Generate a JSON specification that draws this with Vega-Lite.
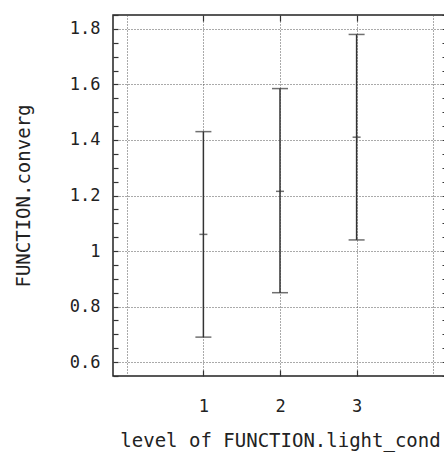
{
  "$schema": "https://vega.github.io/schema/vega-lite/v6.json",
  "width": 334,
  "height": 361,
  "autosize": {"type": "none"},
  "padding": {"left": 113, "top": 15, "right": 0, "bottom": 76},
  "background": "white",
  "config": {
    "view": {"stroke": "#222", "strokeWidth": 1.5},
    "font": "DejaVu Sans Mono",
    "axis": {
      "labelFont": "DejaVu Sans Mono",
      "titleFont": "DejaVu Sans Mono",
      "labelFontSize": 17,
      "titleFontSize": 19,
      "labelColor": "#222",
      "titleColor": "#222",
      "titleFontWeight": "normal",
      "domain": false,
      "tickColor": "#333",
      "tickWidth": 1.2,
      "gridColor": "#555",
      "gridDash": [1, 2],
      "gridWidth": 1,
      "labelOverlap": false,
      "labelFlush": false,
      "labelBound": false
    }
  },
  "data": {
    "values": [
      {"level": 1, "low": 0.69, "mid": 1.06, "high": 1.43},
      {"level": 2, "low": 0.85, "mid": 1.215, "high": 1.585},
      {"level": 3, "low": 1.04, "mid": 1.41, "high": 1.78}
    ]
  },
  "layer": [
    {
      "mark": {"type": "rule", "color": "#333", "strokeWidth": 1.5},
      "encoding": {
        "x": {
          "field": "level", "type": "quantitative",
          "scale": {"domain": [-0.18, 4.18], "nice": false, "zero": false},
          "axis": {
            "orient": "bottom",
            "title": "level of FUNCTION.light_cond",
            "values": [0, 1, 2, 3, 4],
            "labelExpr": "datum.value >= 1 && datum.value <= 3 ? datum.label : ''",
            "grid": true,
            "tickSize": -6,
            "tickOpacity": {"condition": {"test": "datum.value >= 1 && datum.value <= 3", "value": 1}, "value": 0},
            "labelPadding": 28,
            "titlePadding": 17
          }
        },
        "y": {
          "field": "low", "type": "quantitative",
          "scale": {"domain": [0.55, 1.85], "nice": false, "zero": false},
          "axis": {
            "orient": "left",
            "title": "FUNCTION.converg",
            "values": [0.55, 0.6, 0.65, 0.7, 0.75, 0.8, 0.85, 0.9, 0.95, 1, 1.05, 1.1, 1.15, 1.2, 1.25, 1.3, 1.35, 1.4, 1.45, 1.5, 1.55, 1.6, 1.65, 1.7, 1.75, 1.8, 1.85],
            "labelExpr": "round(datum.value * 20) % 4 == 0 ? toString(round(datum.value * 10) / 10) : ''",
            "grid": true,
            "gridOpacity": {"condition": {"test": "round(datum.value * 20) % 4 == 0", "value": 1}, "value": 0},
            "tickSize": -5,
            "labelPadding": 18,
            "titlePadding": 36
          }
        },
        "y2": {"field": "high"}
      }
    },
    {
      "mark": {"type": "tick", "orient": "horizontal", "size": 16, "thickness": 1.5, "color": "#333"},
      "encoding": {
        "x": {
          "field": "level", "type": "quantitative",
          "scale": {"domain": [-0.18, 4.18], "nice": false, "zero": false},
          "axis": {
            "orient": "top", "title": null, "labels": false, "grid": false,
            "values": [1, 2, 3], "tickSize": -6
          }
        },
        "y": {
          "field": "high", "type": "quantitative",
          "scale": {"domain": [0.55, 1.85], "nice": false, "zero": false},
          "axis": {
            "orient": "right", "title": null, "labels": false, "grid": false,
            "values": [0.55, 0.6, 0.65, 0.7, 0.75, 0.8, 0.85, 0.9, 0.95, 1, 1.05, 1.1, 1.15, 1.2, 1.25, 1.3, 1.35, 1.4, 1.45, 1.5, 1.55, 1.6, 1.65, 1.7, 1.75, 1.8, 1.85],
            "tickSize": -5
          }
        }
      }
    },
    {
      "mark": {"type": "tick", "orient": "horizontal", "size": 16, "thickness": 1.5, "color": "#333"},
      "encoding": {
        "x": {"field": "level", "type": "quantitative", "scale": {"domain": [-0.18, 4.18], "nice": false, "zero": false}, "axis": null},
        "y": {"field": "low", "type": "quantitative", "scale": {"domain": [0.55, 1.85], "nice": false, "zero": false}, "axis": null}
      }
    },
    {
      "mark": {"type": "tick", "orient": "horizontal", "size": 8, "thickness": 1.5, "color": "#333"},
      "encoding": {
        "x": {"field": "level", "type": "quantitative", "scale": {"domain": [-0.18, 4.18], "nice": false, "zero": false}, "axis": null},
        "y": {"field": "mid", "type": "quantitative", "scale": {"domain": [0.55, 1.85], "nice": false, "zero": false}, "axis": null}
      }
    }
  ],
  "resolve": {"axis": {"x": "independent", "y": "independent"}}
}
